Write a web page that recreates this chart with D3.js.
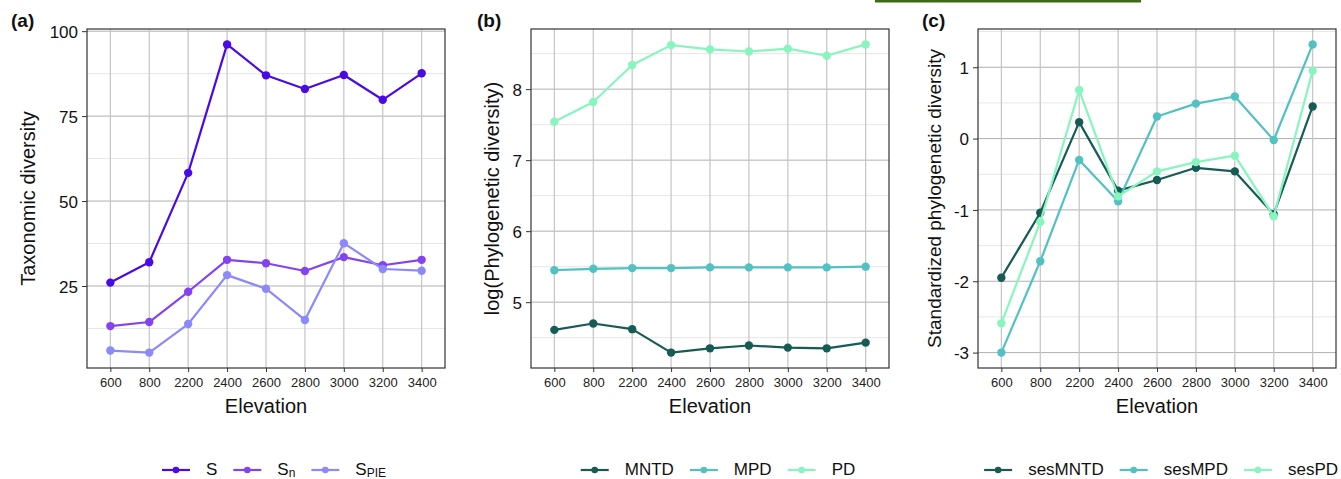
<!DOCTYPE html>
<meta charset="utf-8">
<style>
    body {
        margin: 0;
        background: #fff;
    }

    svg {
        font-family: "Liberation Sans", Arial, sans-serif;
    }
</style>
<body>
<script src="https://d3js.org/d3.v7.min.js"></script>
<script>
    const elevation = ["600", "800", "2200", "2400", "2600", "2800", "3000", "3200", "3400"];

    // (a) taxonomic diversity
    const S    = [26, 32, 58.3, 96.1, 87, 83, 87.1, 79.8, 87.6];
    const Sn   = [13.2, 14.4, 23.3, 32.7, 31.7, 29.4, 33.5, 31.1, 32.7];
    const SPIE = [6, 5.4, 13.8, 28.2, 24.2, 15, 37.6, 30, 29.5];

    // (b) log phylogenetic diversity
    const MNTD = [4.61, 4.70, 4.62, 4.29, 4.35, 4.39, 4.36, 4.35, 4.43];
    const MPD  = [5.45, 5.47, 5.48, 5.48, 5.49, 5.49, 5.49, 5.49, 5.50];
    const PD   = [7.54, 7.82, 8.34, 8.62, 8.56, 8.53, 8.57, 8.47, 8.63];

    // (c) standardized phylogenetic diversity
    const sesMNTD = [-1.95, -1.04, 0.23, -0.73, -0.58, -0.41, -0.46, -1.06, 0.45];
    const sesMPD  = [-3.00, -1.72, -0.30, -0.88, 0.31, 0.49, 0.59, -0.02, 1.32];
    const sesPD   = [-2.59, -1.17, 0.68, -0.81, -0.46, -0.33, -0.24, -1.09, 0.95];

    const ticksA = [25, 50, 75, 100];
    const ticksB = [5, 6, 7, 8];
    const ticksC = [-3, -2, -1, 0, 1];

    const width = 1341, height = 479;
    const plotTop = 29, plotBottom = 368;

    const svg = d3.select("body").append("svg")
        .attr("width", width)
        .attr("height", height);

    // thin green strip at the very top of the figure
    svg.append("rect")
        .attr("x", 875).attr("y", 0)
        .attr("width", 266).attr("height", 2.5)
        .attr("fill", "#3c6b14");

    const panels = [
        {
            tag: "(a)", tagX: 11, left: 87, right: 445,
            title: "Taxonomic diversity", titleX: 35, titleSize: 20,
            ticks: ticksA,
            series: [
                {name: "S", values: S, color: "#4a0ae6"},
                {name: "Sn", values: Sn, color: "#8443f0"},
                {name: "SPIE", values: SPIE, color: "#8b89fb"}
            ]
        },
        {
            tag: "(b)", tagX: 477, left: 531, right: 889,
            title: "log(Phylogenetic diversity)", titleX: 499, titleSize: 20,
            ticks: ticksB,
            series: [
                {name: "MNTD", values: MNTD, color: "#165c55"},
                {name: "MPD", values: MPD, color: "#52c1c1"},
                {name: "PD", values: PD, color: "#88f5bf"}
            ]
        },
        {
            tag: "(c)", tagX: 922, left: 978, right: 1336,
            title: "Standardized phylogenetic diversity", titleX: 941, titleSize: 19,
            ticks: ticksC,
            series: [
                {name: "sesMNTD", values: sesMNTD, color: "#165c55"},
                {name: "sesMPD", values: sesMPD, color: "#52c1c1"},
                {name: "sesPD", values: sesPD, color: "#88f5bf"}
            ]
        }
    ];

    panels.forEach(function(p) {
        const g = svg.append("g").attr("class", "panel");

        // discrete x, ggplot style expansion (0.6 of a step each side)
        const x = d3.scalePoint()
            .domain(elevation)
            .range([p.left, p.right])
            .padding(0.6);

        const all = d3.merge(p.series.map(s => s.values));
        const ext = d3.extent(all);
        const pad = (ext[1] - ext[0]) * 0.05;
        const y = d3.scaleLinear()
            .domain([ext[0] - pad, ext[1] + pad])
            .range([plotBottom, plotTop]);

        // minor grid (midpoints between major ticks)
        const step = p.ticks[1] - p.ticks[0];
        const minor = [p.ticks[0] - step / 2].concat(p.ticks.map(t => t + step / 2))
            .filter(v => v > y.domain()[0] && v < y.domain()[1]);

        g.selectAll(".minor")
            .data(minor)
            .enter().append("line")
            .attr("x1", p.left).attr("x2", p.right)
            .attr("y1", d => y(d)).attr("y2", d => y(d))
            .attr("stroke", "#e6e6e6")
            .attr("stroke-width", 1);

        g.selectAll(".hgrid")
            .data(p.ticks)
            .enter().append("line")
            .attr("x1", p.left).attr("x2", p.right)
            .attr("y1", d => y(d)).attr("y2", d => y(d))
            .attr("stroke", "#b0b0b0")
            .attr("stroke-width", 1);

        g.selectAll(".vgrid")
            .data(elevation)
            .enter().append("line")
            .attr("x1", d => x(d)).attr("x2", d => x(d))
            .attr("y1", plotTop).attr("y2", plotBottom)
            .attr("stroke", "#c4c4c4")
            .attr("stroke-width", 1.2);

        // axes
        const yAxis = g.append("g")
            .attr("transform", "translate(" + p.left + ",0)")
            .call(d3.axisLeft(y).tickValues(p.ticks).tickSize(5).tickPadding(4)
                .tickFormat(d => d < 0 ? "-" + Math.abs(d) : d));
        yAxis.select(".domain").remove();
        yAxis.selectAll("line").attr("stroke", "#333");
        yAxis.selectAll("text")
            .attr("fill", "#111")
            .style("font-size", "17px")
            .attr("dy", "0.36em");

        const xAxis = g.append("g")
            .attr("transform", "translate(0," + plotBottom + ")")
            .call(d3.axisBottom(x).tickSize(4).tickPadding(6));
        xAxis.select(".domain").remove();
        xAxis.selectAll("line").attr("stroke", "#333");
        xAxis.selectAll("text")
            .attr("fill", "#222")
            .style("font-size", "13px");

        // panel border
        g.append("rect")
            .attr("x", p.left).attr("y", plotTop)
            .attr("width", p.right - p.left).attr("height", plotBottom - plotTop)
            .attr("fill", "none")
            .attr("stroke", "#333")
            .attr("stroke-width", 1.2);

        // lines and points
        const line = d3.line()
            .x((d, i) => x(elevation[i]))
            .y(d => y(d));

        p.series.forEach(function(s) {
            g.append("path")
                .datum(s.values)
                .attr("d", line)
                .attr("fill", "none")
                .attr("stroke", s.color)
                .attr("stroke-width", 2.2)
                .attr("stroke-linejoin", "round");

            g.selectAll(null)
                .data(s.values)
                .enter().append("circle")
                .attr("cx", (d, i) => x(elevation[i]))
                .attr("cy", d => y(d))
                .attr("r", 4.2)
                .attr("fill", s.color);
        });

        // labels
        g.append("text")
            .attr("x", p.tagX).attr("y", 27)
            .style("font-size", "19px")
            .style("font-weight", "bold")
            .attr("fill", "#111")
            .text(p.tag);

        g.append("text")
            .attr("transform", "translate(" + p.titleX + "," + ((plotTop + plotBottom) / 2) + ") rotate(-90)")
            .attr("text-anchor", "middle")
            .style("font-size", p.titleSize + "px")
            .attr("fill", "#111")
            .text(p.title);

        g.append("text")
            .attr("x", (p.left + p.right) / 2).attr("y", 413)
            .attr("text-anchor", "middle")
            .style("font-size", "20px")
            .attr("fill", "#111")
            .text("Elevation");

        // legend, centred a little right of the panel centre
        const legend = g.append("g");
        let cx = 0;
        p.series.forEach(function(s) {
            const item = legend.append("g").attr("transform", "translate(" + cx + ",0)");
            item.append("line")
                .attr("x1", 0).attr("x2", 28)
                .attr("y1", 470).attr("y2", 470)
                .attr("stroke", s.color)
                .attr("stroke-width", 2.2);
            item.append("circle")
                .attr("cx", 14).attr("cy", 470).attr("r", 3.3)
                .attr("fill", s.color);
            const t = item.append("text")
                .attr("x", 44).attr("y", 475)
                .style("font-size", "17px")
                .attr("fill", "#111");
            if (s.name === "Sn") {
                t.append("tspan").text("S");
                t.append("tspan").attr("dy", 2).style("font-size", "12px").text("n");
            } else if (s.name === "SPIE") {
                t.append("tspan").text("S");
                t.append("tspan").attr("dy", 2).style("font-size", "12px").text("PIE");
            } else {
                t.text(s.name);
            }
            cx += 44 + t.node().getComputedTextLength() + 16;
        });
        const total = cx - 16;
        const start = Math.min((p.left + p.right) / 2 + 8 - total / 2, width - 3 - total);
        legend.attr("transform", "translate(" + start + ",0)");
    });
</script>
</body>
</html>
